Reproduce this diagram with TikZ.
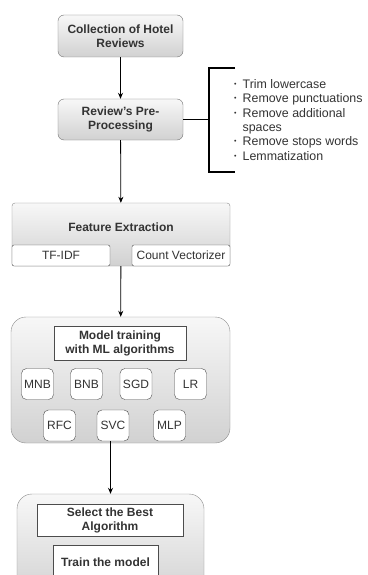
\documentclass[tikz,border=0pt]{standalone}
\usepackage{fontspec}
\setmainfont{Liberation Sans}
\usetikzlibrary{arrows.meta, positioning}
\definecolor{txt}{HTML}{333333}
\tikzset{
  stage/.style={draw=black!55, rounded corners=6pt, top color=gray!6, bottom color=gray!36, text=txt, font=\fontsize{12}{14}\selectfont\bfseries, align=center, inner sep=0pt},
  group/.style={draw=black!45, top color=gray!6, bottom color=gray!36, inner sep=0pt},
  inbox/.style={draw=black!70, fill=white, text=txt, font=\fontsize{12}{14}\selectfont, inner sep=0pt, align=center},
  algo/.style={inbox, rounded corners=5pt, minimum width=32pt, minimum height=31pt},
  flow/.style={-{Stealth[length=6pt,width=5pt]}, black, line width=0.8pt},
  brk/.style={black, line width=1.5pt}
}
\newcommand{\dotmark}{\raisebox{0.3ex}{\scriptsize\textbullet}}

\begin{document}
\begin{tikzpicture}[x=1pt,y=-1pt]
\clip (0,0) rectangle (367,575);
\fill[white] (0,0) rectangle (367,575);

% first two steps
\node[stage, minimum width=125pt, minimum height=42pt] (coll) at (120.5,36) {Collection of Hotel\\Reviews};
\node[stage, minimum width=125pt, minimum height=41pt] (pre) at (120.5,119.5) {Review's Pre-\\Processing};
\draw[flow] (coll) -- (pre);

% pre-processing list
\coordinate (brtop) at (235,68);
\coordinate (brbot) at (235,172);
\coordinate (brmid) at (209,119.5);
\draw[brk] (brtop) -- (209,68) -- (209,172) -- (brbot);
\draw[brk] (pre.east) -- (brmid);
\node[anchor=north west, inner sep=0pt, text=txt, font=\fontsize{12.4}{14.4}\selectfont] (steps) at (234,78) {%
  \begin{tabular}{@{}l@{\hspace{6pt}}l@{}}
  \dotmark & Trim lowercase\\
  \dotmark & Remove punctuations\\
  \dotmark & Remove additional\\
           & spaces\\
  \dotmark & Remove stops words\\
  \dotmark & Lemmatization
  \end{tabular}};

% feature extraction
\node[group, rounded corners=3pt, minimum width=218pt, minimum height=63pt] (feat) at (121,234.5) {};
\node[text=txt, font=\fontsize{12}{14}\selectfont\bfseries] (featlbl) at (121,227) {Feature Extraction};
\node[inbox, rounded corners=2pt, minimum width=98pt, minimum height=21pt, anchor=south west] (tfidf) at (feat.south west) {TF-IDF};
\node[inbox, rounded corners=2pt, minimum width=98pt, minimum height=21pt, anchor=south east] (count) at (feat.south east) {Count Vectorizer};
\draw[flow] (pre) -- (feat);

% model training
\node[group, rounded corners=15pt, minimum width=219pt, minimum height=126pt] (train) at (120.5,380) {};
\node[inbox, font=\fontsize{12}{14}\selectfont\bfseries, minimum width=132pt, minimum height=34pt] (mtrain) at (120,343) {Model training\\with ML algorithms};
\node[algo] (mnb) at (37.5,384) {MNB};
\node[algo] (bnb) at (86.5,384) {BNB};
\node[algo] (sgd) at (136,384) {SGD};
\node[algo] (lr) at (190.5,384) {LR};
\node[algo] (rfc) at (59.5,425.5) {RFC};
\node[algo] (svc) at (113,425.5) {SVC};
\node[algo] (mlp) at (169.5,425.5) {MLP};
\draw[flow] (feat) -- (train);

% best algorithm
\node[group, rounded corners=15pt, minimum width=187pt, minimum height=106pt] (best) at (110.5,547) {};
\node[inbox, font=\fontsize{12}{14}\selectfont\bfseries, minimum width=146pt, minimum height=32pt] (sel) at (110,520) {Select the Best\\Algorithm};
\node[inbox, font=\fontsize{12}{14}\selectfont\bfseries, minimum width=105pt, minimum height=34pt] (fit) at (105.5,562) {Train the model};
\draw[flow] (svc.south -| best.north) -- (best.north);
\end{tikzpicture}
\end{document}
